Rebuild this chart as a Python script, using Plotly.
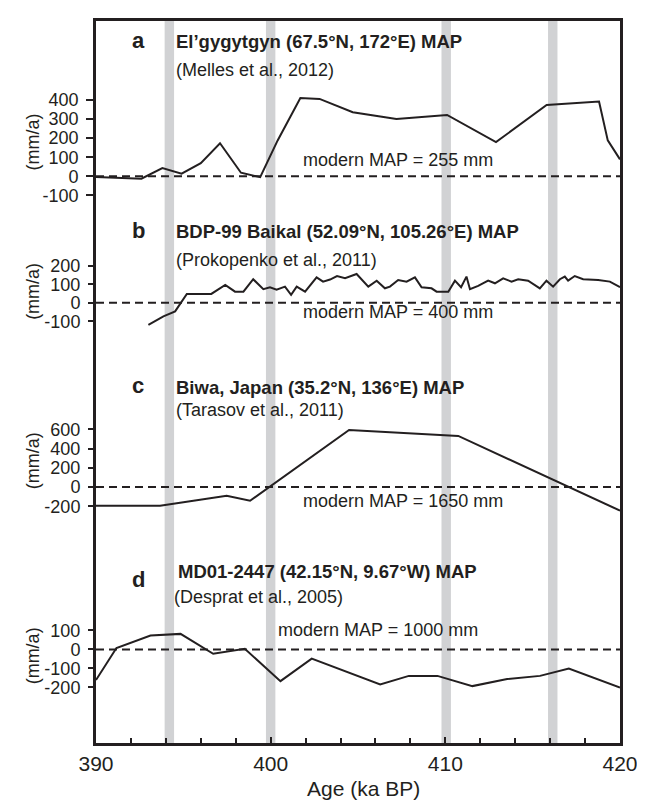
import plotly.graph_objects as go

# ---------------- data ----------------
# a: El'gygytgyn
age_a = [390.0, 392.6, 393.8, 394.9, 396.0, 397.1, 398.3, 399.4, 400.4, 401.7,
         402.8, 404.7, 407.2, 410.1, 412.9, 415.8, 418.8, 419.3, 420.0]
map_a = [-3, -12, 43, 14, 69, 173, 19, -4, 188, 410,
         405, 335, 300, 321, 179, 373, 391, 188, 89]

# b: BDP-99 Baikal
age_b = [393.0, 393.86, 394.53, 395.2, 396.6, 397.4, 397.96, 398.44, 399.0, 399.58,
         399.96, 400.34, 400.82, 401.17, 401.49, 401.97, 402.63, 403.0, 403.4, 403.8,
         404.26, 404.92, 405.59, 406.07, 406.54, 406.83, 407.3, 407.78, 408.26, 408.64,
         409.21, 409.5, 410.17, 410.55, 410.9, 411.21, 411.41, 411.88, 412.45, 412.84,
         413.31, 413.79, 414.17, 414.74, 415.41, 415.79, 416.17, 416.56, 416.84, 417.03,
         417.41, 417.89, 418.75, 419.42, 420.0]
map_b = [-118, -73, -46, 48, 48, 96, 60, 60, 127, 73,
         84, 70, 87, 43, 87, 60, 137, 114, 125, 144,
         132, 155, 87, 119, 78, 87, 123, 114, 137, 84,
         78, 60, 60, 119, 84, 141, 73, 91, 119, 105,
         132, 114, 127, 119, 78, 119, 87, 127, 141, 119,
         144, 127, 123, 114, 84]

# c: Biwa
age_c = [390.0, 393.67, 397.48, 398.82, 404.49, 410.74, 420.0]
map_c = [-193, -193, -90, -142, 593, 531, -245]

# d: MD01-2447
age_d = [390.0, 391.17, 393.12, 394.84, 396.71, 398.52, 400.56, 402.35, 406.27, 407.91,
         409.55, 411.55, 413.54, 415.42, 417.07, 420.0]
map_d = [-162, 7, 73, 82, -23, 3, -168, -49, -185, -140,
         -140, -194, -157, -140, -101, -202]

band_centers = [394.2, 400.0, 410.05, 416.15]
band_half = 0.27

titles = ["El’gygytgyn (67.5°N, 172°E) MAP",
          "BDP-99 Baikal (52.09°N, 105.26°E) MAP",
          "Biwa, Japan (35.2°N, 136°E) MAP",
          "MD01-2447 (42.15°N, 9.67°W) MAP"]
cites = ["(Melles et al., 2012)", "(Prokopenko et al., 2011)",
         "(Tarasov et al., 2011)", "(Desprat et al., 2005)"]
moderns = ["modern MAP = 255 mm", "modern MAP = 400 mm",
           "modern MAP = 1650 mm", "modern MAP = 1000 mm"]
letters = ["a", "b", "c", "d"]
yticks = [[-100, 0, 100, 200, 300, 400],
          [-100, 0, 100, 200],
          [-200, 0, 200, 400, 600],
          [-200, -100, 0, 100]]
xticks = [390, 400, 410, 420]
yranges = [[-2963.5, 812.5], [-2367.6, 1515.8], [-2658.6, 4841.3], [-494.7, 3321.0]]

# ---------------- layout helpers ----------------
W, H = 645, 804
L, R, T, B = 88, 612, 10, 735
def px(x):
    return (x - L) / (R - L)
def py(y):
    return (B - y) / (B - T)

FONT = "Arial, 'Liberation Sans', sans-serif"
INK = "#231f20"

fig = go.Figure()
ages = [age_a, age_b, age_c, age_d]
maps = [map_a, map_b, map_c, map_d]
ynames = ["y", "y2", "y3", "y4"]
for i in range(4):
    fig.add_trace(go.Scatter(x=ages[i], y=maps[i], mode="lines",
                             line=dict(color=INK, width=2),
                             yaxis=ynames[i], showlegend=False, hoverinfo="skip"))

shapes = []
for c in band_centers:
    shapes.append(dict(type="rect", xref="x", yref="paper", x0=c - band_half, x1=c + band_half,
                       y0=0, y1=1, fillcolor="#d1d2d4", line=dict(width=0), layer="below"))
for i in range(4):
    shapes.append(dict(type="line", xref="x", yref=ynames[i], x0=390, x1=420, y0=0, y1=0,
                       line=dict(color=INK, width=2, dash="8px,5px"), layer="below"))

ann = []
letter_y = [30, 220, 376, 571]
title_y = [31, 221, 378, 563]
title_x = [166, 166, 166, 168]
cite_y = [59, 250, 401, 588]
cite_x = [166, 166, 166, 164]
mod_x = [293, 293, 293, 268]
mod_y = [150, 302, 492, 622]
unit_y = [132, 282, 452, 648]
for i in range(4):
    ann.append(dict(x=px(130), y=py(letter_y[i]), xref="paper", yref="paper", text="<b>%s</b>" % letters[i],
                    showarrow=False, xanchor="center", yanchor="middle",
                    font=dict(family=FONT, size=22, color=INK)))
    ann.append(dict(x=px(title_x[i]), y=py(title_y[i]), xref="paper", yref="paper", text="<b>%s</b>" % titles[i],
                    showarrow=False, xanchor="left", yanchor="middle",
                    font=dict(family=FONT, size=18.5, color=INK)))
    ann.append(dict(x=px(cite_x[i]), y=py(cite_y[i]), xref="paper", yref="paper", text=cites[i],
                    showarrow=False, xanchor="left", yanchor="middle",
                    font=dict(family=FONT, size=18, color=INK)))
    ann.append(dict(x=px(mod_x[i]), y=py(mod_y[i]), xref="paper", yref="paper", text=moderns[i],
                    showarrow=False, xanchor="left", yanchor="middle",
                    font=dict(family=FONT, size=18, color=INK)))
    ann.append(dict(x=px(25), y=py(unit_y[i]), xref="paper", yref="paper", text="(mm/a)",
                    showarrow=False, xanchor="center", yanchor="middle", textangle=-90,
                    font=dict(family=FONT, size=18, color=INK)))
ann.append(dict(x=px(355), y=py(781), xref="paper", yref="paper", text="Age (ka BP)",
                showarrow=False, xanchor="center", yanchor="middle",
                font=dict(family=FONT, size=21, color=INK)))

layout = dict(
    width=W, height=H,
    margin=dict(l=L, r=W - R, t=T, b=H - B),
    paper_bgcolor="white", plot_bgcolor="white",
    shapes=shapes, annotations=ann,
    xaxis=dict(range=[390, 420], tickvals=xticks, ticktext=[str(v) for v in xticks],
               ticks="inside", ticklen=6,
               tickwidth=2, tickcolor=INK, showgrid=False, zeroline=False,
               showline=True, mirror=True, linecolor=INK, linewidth=2.7,
               tickfont=dict(family=FONT, size=21, color=INK),
               minor=dict(dtick=2, tick0=390, ticks="inside", ticklen=5, tickwidth=1.5, tickcolor=INK)),
)
for i in range(4):
    key = "yaxis" if i == 0 else "yaxis%d" % (i + 1)
    ax = dict(range=yranges[i], tickvals=yticks[i], ticktext=[str(v) for v in yticks[i]],
              ticks="outside", ticklen=7, tickwidth=2,
              tickcolor=INK, showgrid=False, zeroline=False, anchor="x", side="left",
              ticklabelstandoff=4,
              tickfont=dict(family=FONT, size=18, color=INK))
    if i == 0:
        ax.update(showline=True, mirror=True, linecolor=INK, linewidth=2.7)
    else:
        ax.update(showline=False, overlaying="y")
    layout[key] = ax

fig.update_layout(**layout)
fig.write_html("out.html")
